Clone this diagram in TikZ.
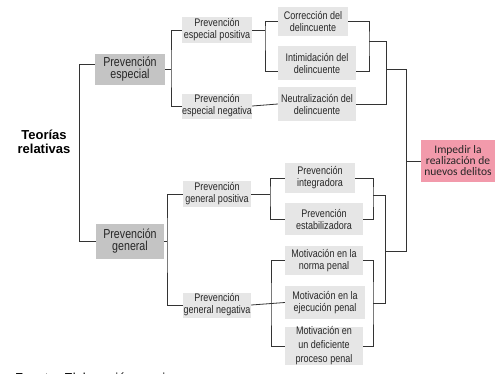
\documentclass[tikz,border=0pt]{standalone}
\usepackage{fontspec}
\setmainfont{Liberation Sans}
\newfontfamily\narrowfont{Liberation Sans}[FakeStretch=0.82]
\newfontfamily\pinkfont{Carlito}
\usetikzlibrary{calc}
\definecolor{boxgray}{HTML}{E6E6E6}
\definecolor{maingray}{HTML}{C4C4C4}
\definecolor{impink}{HTML}{F29AAB}
\definecolor{linegray}{HTML}{333333}

\begin{document}
\begin{tikzpicture}[x=1pt,y=-1pt,
  conn/.style={draw=linegray, line width=0.8pt},
  mainbox/.style={fill=maingray, text=black!85, align=center, inner sep=0pt, font=\narrowfont\fontsize{13}{12.5}\selectfont},
  subbox/.style={fill=boxgray, text=black!85, align=center, inner sep=0pt, font=\narrowfont\fontsize{11}{12}\selectfont},
  goalbox/.style={fill=impink, text=black!85, align=center, inner sep=0pt, font=\pinkfont\fontsize{11.5}{11}\selectfont}]
\useasboundingbox (0,0) rectangle (495,373);

\node[font=\bfseries\fontsize{13}{14.5}\selectfont, align=center] (teorias) at (44,142) {Teorías\\relativas};

\node[mainbox, minimum width=70pt, minimum height=31pt] (pesp) at (130,69) {Prevención\\especial};
\node[mainbox, minimum width=68pt, minimum height=35pt] (pgen) at (130,241) {Prevención\\general};

\node[subbox, minimum width=70pt, minimum height=26pt] (espos) at (217,30) {Prevención\\especial positiva};
\node[subbox, minimum width=70pt, minimum height=25pt] (esneg) at (217,106) {Prevención\\especial negativa};
\node[subbox, minimum width=68pt, minimum height=26pt] (genpos) at (217,194) {Prevención\\general positiva};
\node[subbox, minimum width=68pt, minimum height=25pt] (genneg) at (217,305) {Prevención\\general negativa};

\node[subbox, minimum width=70pt, minimum height=29pt] (corr) at (313,21.5) {Corrección del\\delincuente};
\node[subbox, minimum width=78pt, minimum height=34pt] (intim) at (317,63) {Intimidación del\\delincuente};
\node[subbox, minimum width=78pt, minimum height=34pt] (neut) at (317,104) {Neutralización del\\delincuente};

\node[subbox, minimum width=70pt, minimum height=30pt] (integ) at (320,178) {Prevención\\integradora};
\node[subbox, minimum width=78pt, minimum height=32pt] (estab) at (324,219) {Prevención\\estabilizadora};
\node[subbox, minimum width=78pt, minimum height=29pt] (norma) at (324,260.5) {Motivación en la\\norma penal};
\node[subbox, minimum width=80pt, minimum height=33pt] (ejec) at (325,302.5) {Motivación en la\\ejecución penal};
\node[subbox, minimum width=78pt, minimum height=38pt, font=\narrowfont\fontsize{11}{14}\selectfont] (defic) at (324,346) {Motivación en\\un deficiente\\proceso penal};

\node[goalbox, minimum width=74pt, minimum height=42pt] (impedir) at (458,161) {Impedir la\\realización de\\nuevos delitos};

% junctions
\coordinate (j1) at (171,69);
\coordinate (j2) at (265,30);
\coordinate (j3) at (167,241);
\coordinate (j4) at (270,194);
\coordinate (j5) at (271,305);
\coordinate (k1) at (369,41);
\coordinate (k2) at (386,69);
\coordinate (k3) at (406,69);
\coordinate (k4) at (373,195);
\coordinate (k5) at (385,251);
\coordinate (k6) at (406,251);
\coordinate (k7) at (373,303);

% left side
\draw[conn] ([yshift=5pt]pesp.west) -| ($(pgen.west)+(-16,0)$) -- (pgen.west);
\draw[conn] (pesp.east) -- (j1);
\draw[conn] (espos.west) -| (j1) |- (esneg.west);
\draw[conn] (pgen.east) -- (j3);
\draw[conn] (genpos.west) -| (j3) |- (genneg.west);
\draw[conn] (espos.east) -- (j2);
\draw[conn] (corr.west) -| (j2) |- ([yshift=-8pt]intim.west);
\draw[conn] (esneg.east) -- (neut.west);
\draw[conn] (genpos.east) -- (j4);
\draw[conn] (integ.west) -| (j4) |- (estab.west);
\draw[conn] (norma.west) -| (j5) |- (defic.west);
\draw[conn] (genneg.east) -- (ejec.west);

% right side
\draw[conn] (corr.east) -| (k1) |- ([yshift=-8pt]intim.east);
\draw[conn] (k1) -| (k2);
\draw[conn] (neut.east) -| (k2);
\draw[conn] (k2) -- (k3) -- (k6) -- (k5);
\draw[conn] (integ.east) -| (k4) |- (estab.east);
\draw[conn] (k4) -| (k5);
\draw[conn] (norma.east) -| (k7) |- (defic.east);
\draw[conn] (k7) -| (k5);
\draw[conn] (impedir.west) -- (impedir.west -| k3);

\begin{scope}
\clip (0,0) rectangle (495,373);
\node[anchor=base west, inner sep=0pt, font=\fontsize{13}{15}\selectfont] (fuente) at (15,382) {Fuente: Elaboración propia};
\end{scope}
\end{tikzpicture}
\end{document}
